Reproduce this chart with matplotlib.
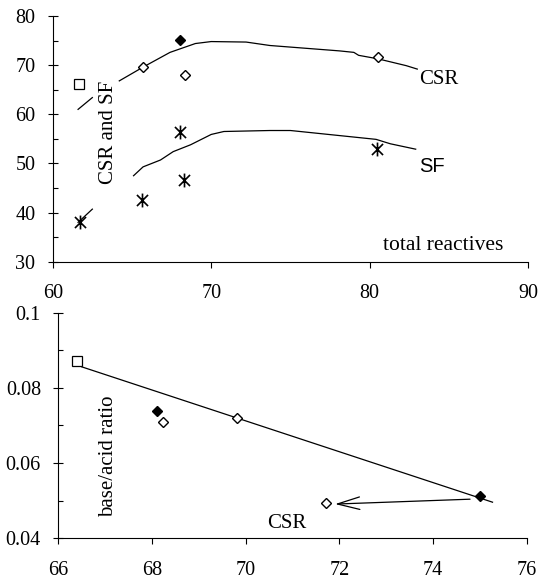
import numpy as np
import matplotlib
matplotlib.use("Agg")
import matplotlib.pyplot as plt
from matplotlib.path import Path
from matplotlib.ticker import MultipleLocator

plt.rcParams["font.family"] = "Liberation Serif"

# ---- top panel: CSR and SF vs total reactives -------------------------
csr_fit_a_x = [61.6, 62.5]
csr_fit_a_y = [61.0, 63.4]
csr_fit_x = [64.2, 65.7, 67.4, 69.0, 70.0, 72.2, 73.7, 78.1, 79.0, 79.3,
             80.5, 82.3, 83.0]
csr_fit_y = [66.8, 69.6, 72.6, 74.4, 74.8, 74.7, 74.0, 72.9, 72.6, 72.0,
             71.3, 69.9, 69.2]
sf_fit_a_x = [61.6, 62.5]
sf_fit_a_y = [38.0, 40.7]
sf_fit_x = [65.1, 65.7, 66.8, 67.6, 68.7, 70.0, 70.8, 73.7, 75.0, 77.7,
            80.4, 81.3, 82.9]
sf_fit_y = [47.5, 49.3, 50.7, 52.4, 53.8, 55.9, 56.5, 56.7, 56.7, 55.8,
            54.9, 54.0, 52.9]

csr_open_x = [65.7, 68.35, 80.55]
csr_open_y = [69.6, 68.0, 71.7]
csr_fill_x = [68.05]
csr_fill_y = [75.1]
csr_sq_x = [61.68]
csr_sq_y = [66.2]
sf_x = [61.72, 65.63, 68.03, 68.3, 80.48]
sf_y = [38.1, 42.55, 56.3, 46.6, 52.9]

# ---- bottom panel: base/acid ratio vs CSR -----------------------------
ba_fit_x = [66.5, 75.27]
ba_fit_y = [0.0856, 0.0496]
ba_open_x = [68.23, 69.81, 71.72]
ba_open_y = [0.0709, 0.0721, 0.0493]
ba_fill_x = [68.1, 75.0]
ba_fill_y = [0.0739, 0.0513]
ba_sq_x = [66.39]
ba_sq_y = [0.0872]
arrow_from = (74.79, 0.0504)
arrow_to = (71.91, 0.0491)

# asterisk marker: vertical bar plus an X
star = Path([(0, -1), (0, 1), (-0.8, -0.8), (0.8, 0.8), (-0.8, 0.8), (0.8, -0.8)],
            [Path.MOVETO, Path.LINETO, Path.MOVETO, Path.LINETO,
             Path.MOVETO, Path.LINETO])

fig = plt.figure(figsize=(5.39, 5.78), dpi=100)
ax1 = fig.add_axes([0.0978, 0.5472, 0.8822, 0.4251])
ax2 = fig.add_axes([0.1082, 0.0687, 0.869, 0.3903])

TICK_FS = 14.5


def style(ax):
    for s in ["top", "right"]:
        ax.spines[s].set_visible(False)
    for s in ["left", "bottom"]:
        ax.spines[s].set_linewidth(0.8)
    ax.tick_params(axis="y", which="major", direction="inout", length=7,
                   width=0.8, labelsize=TICK_FS, pad=9)
    ax.tick_params(axis="y", which="minor", direction="in", length=3.5,
                   width=0.8)
    ax.tick_params(axis="x", which="major", direction="out", length=4,
                   width=0.8, labelsize=TICK_FS, pad=12)


# top panel
style(ax1)
ax1.plot(csr_fit_a_x, csr_fit_a_y, color="black", lw=0.9)
ax1.plot(csr_fit_x, csr_fit_y, color="black", lw=0.9)
ax1.plot(sf_fit_a_x, sf_fit_a_y, color="black", lw=0.9)
ax1.plot(sf_fit_x, sf_fit_y, color="black", lw=0.9)
ax1.plot(csr_open_x, csr_open_y, "D", ms=5.4, mfc="white", mec="black",
         mew=1.0, ls="none")
ax1.plot(csr_fill_x, csr_fill_y, "D", ms=5.6, mfc="black", mec="black",
         ls="none")
ax1.plot(csr_sq_x, csr_sq_y, "s", ms=6.5, mfc="white", mec="black",
         mew=0.9, ls="none")
ax1.plot(sf_x, sf_y, marker=star, ms=10, mec="black", mew=1.2, ls="none")
ax1.set_xlim(60, 90)
ax1.set_ylim(30, 80)
ax1.xaxis.set_major_locator(MultipleLocator(10))
ax1.yaxis.set_major_locator(MultipleLocator(10))
ax1.yaxis.set_minor_locator(MultipleLocator(5))
ax1.text(63.5, 56.3, "CSR and SF", rotation=90, ha="center", va="center",
         fontsize=15)
ax1.text(83.1, 67.0, "CSR", ha="left", va="center", fontsize=15)
ax1.text(83.1, 49.3, "SF", ha="left", va="center", fontsize=14.5,
         family="Liberation Sans")
ax1.text(84.65, 33.4, "total reactives", ha="center", va="center",
         fontsize=15.5)

# bottom panel
style(ax2)
ax2.plot(ba_fit_x, ba_fit_y, color="black", lw=0.9)
ax2.plot(ba_open_x, ba_open_y, "D", ms=5.4, mfc="white", mec="black",
         mew=1.0, ls="none")
ax2.plot(ba_fill_x, ba_fill_y, "D", ms=5.6, mfc="black", mec="black",
         ls="none")
ax2.plot(ba_sq_x, ba_sq_y, "s", ms=6.5, mfc="white", mec="black",
         mew=0.9, ls="none")
ax2.annotate("", xy=arrow_to, xytext=arrow_from,
             arrowprops=dict(arrowstyle="->,head_length=1.6,head_width=0.45",
                             color="black", lw=0.9, mutation_scale=10,
                             shrinkA=0, shrinkB=0))
ax2.set_xlim(66, 76)
ax2.set_ylim(0.04, 0.1)
ax2.xaxis.set_major_locator(MultipleLocator(2))
ax2.set_yticks([0.04, 0.06, 0.08, 0.1])
ax2.set_yticklabels(["0.04", "0.06", "0.08", "0.1"])
ax2.yaxis.set_minor_locator(MultipleLocator(0.01))
ax2.text(67.07, 0.0619, "base/acid ratio", rotation=90, ha="center",
         va="center", fontsize=15)
ax2.text(70.45, 0.0440, "CSR", ha="left", va="center", fontsize=15)

fig.savefig("out.png", dpi=100)
